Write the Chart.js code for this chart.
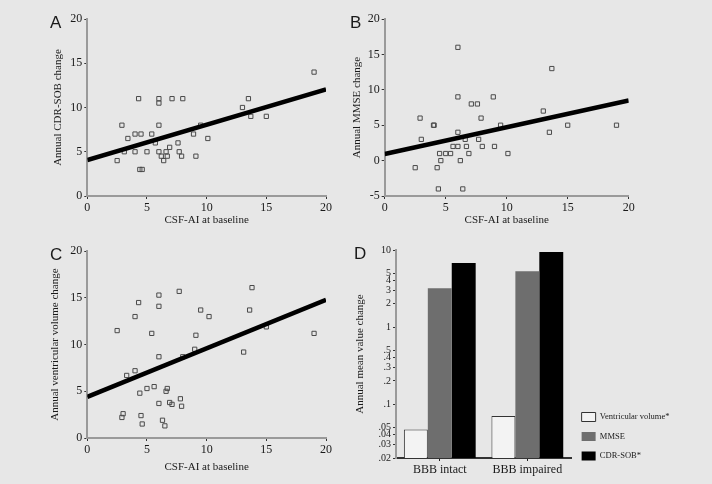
<!DOCTYPE html>
<html>
<head>
<meta charset="utf-8">
<script src="https://cdn.jsdelivr.net/npm/chart.js@4.4.7/dist/chart.umd.min.js"></script>
<style>
  html, body { margin: 0; padding: 0; background: #e7e7e7; }
  body { width: 712px; height: 484px; position: relative; overflow: hidden; }
  .panel { position: absolute; }
</style>
</head>
<body>
<div class="panel" style="left:0;top:0;width:356px;height:242px"><canvas id="chartA"></canvas></div>
<div class="panel" style="left:340px;top:0;width:372px;height:242px"><canvas id="chartB"></canvas></div>
<div class="panel" style="left:0;top:242px;width:356px;height:242px"><canvas id="chartC"></canvas></div>
<div class="panel" style="left:200px;top:242px;width:512px;height:242px"><canvas id="chartD"></canvas></div>
<script>
// CSF-AI at baseline vs annual changes
const cdrX = [2.5, 2.9, 3.1, 3.4, 4.0, 4.0, 4.3, 4.5, 4.4, 4.6, 5.0, 5.4, 5.7, 6.0, 6.0, 6.0, 6.0, 6.2, 6.4, 6.6, 6.7, 6.9, 7.1, 7.6, 7.7, 7.9, 8.0, 8.9, 9.1, 9.5, 10.1, 13.0, 13.5, 13.7, 15.0, 19.0];
const cdrY = [4, 8, 5, 6.5, 7, 5, 11, 7, 3, 3, 5, 7, 6, 11, 10.5, 8, 5, 4.5, 4, 5, 4.5, 5.5, 11, 6, 5, 4.5, 11, 7, 4.5, 8, 6.5, 10, 11, 9, 9, 14];

const mmseX = [2.5, 2.9, 3.0, 4.0, 4.05, 4.3, 4.4, 4.5, 4.6, 5.0, 5.4, 5.6, 6.0, 6.0, 6.0, 6.0, 6.2, 6.4, 6.6, 6.7, 6.9, 7.1, 7.6, 7.7, 7.9, 8.0, 8.9, 9.0, 9.5, 10.1, 13.0, 13.5, 13.7, 15.0, 19.0];
const mmseY = [-1, 6, 3, 5, 5, -1, -4, 1, 0, 1, 1, 2, 16, 9, 4, 2, 0, -4, 3, 2, 1, 8, 8, 3, 6, 2, 9, 2, 5, 1, 7, 4, 13, 5, 5];

const ventX = [2.5, 2.9, 3.0, 3.3, 4.0, 4.0, 4.3, 4.4, 4.5, 4.6, 5.0, 5.4, 5.6, 6.0, 6.0, 6.0, 6.0, 6.3, 6.5, 6.6, 6.7, 6.9, 7.1, 7.7, 7.8, 7.9, 8.0, 9.0, 9.1, 9.5, 10.2, 13.1, 13.6, 13.8, 15.0, 19.0];
const ventY = [11.5, 2.2, 2.6, 6.7, 13, 7.2, 14.5, 4.8, 2.4, 1.5, 5.3, 11.2, 5.5, 15.3, 14.1, 8.7, 3.7, 1.9, 1.3, 5.0, 5.3, 3.8, 3.6, 15.7, 4.2, 3.4, 8.7, 9.5, 11, 13.7, 13, 9.2, 13.7, 16.1, 11.9, 11.2];

// fitted regression lines, end values at x = 0 and x = 20
const fitX = [0, 20];
const cdrFit = [4.07, 12.05];
const mmseFit = [0.94, 8.5];
const ventFit = [4.4, 14.8];

// panel D
const groups = ['BBB intact', 'BBB impaired'];
const ventMean = [0.047, 0.07];
const mmseMean = [3.2, 5.3];
const cdrMean = [6.8, 9.4];
const dTickValues = [10, 5, 4, 3, 2, 1, 0.5, 0.4, 0.3, 0.2, 0.1, 0.05, 0.04, 0.03, 0.02];
const dTickLabels = ['10', '5', '4', '3', '2', '1', '.5', '.4', '.3', '.2', '.1', '.05', '.04', '.03', '.02'];

Chart.defaults.font.family = '"Liberation Serif", "Times New Roman", serif';
Chart.defaults.color = '#1a1a1a';

const panelLetter = {
  id: 'panelLetter',
  afterDraw(chart, args, opts) {
    const ctx = chart.ctx;
    ctx.save();
    ctx.font = '17px "Liberation Sans", Arial, sans-serif';
    ctx.fillStyle = '#1a1a1a';
    ctx.fillText(opts.text, opts.x, opts.y);
    ctx.restore();
  }
};

function toPoints(xs, ys) {
  return xs.map((x, i) => ({ x: x, y: ys[i] }));
}

function axisLook(extra) {
  return Object.assign({
    grid: { drawOnChartArea: false, drawTicks: true, tickLength: 3, color: '#333', lineWidth: 1 },
    border: { color: '#9a9a9a', width: 2 },
    ticks: { font: { size: 12 }, color: '#1a1a1a', padding: 2 }
  }, extra);
}

function makeScatter(id, p) {
  return new Chart(document.getElementById(id), {
    type: 'scatter',
    data: {
      datasets: [
        {
          data: toPoints(p.xs, p.ys),
          pointStyle: 'rect',
          pointRadius: 3,
          borderColor: '#4a4a4a',
          borderWidth: 1,
          backgroundColor: 'rgba(0,0,0,0)',
          order: 2
        },
        {
          data: toPoints(fitX, p.fit),
          showLine: true,
          borderColor: '#000',
          borderWidth: 4.5,
          pointRadius: 0,
          order: 1
        }
      ]
    },
    options: {
      animation: false,
      responsive: true,
      maintainAspectRatio: false,
      layout: { padding: p.pad },
      scales: {
        x: axisLook({
          type: 'linear', min: 0, max: 20,
          ticks: { stepSize: 5, font: { size: 12 }, color: '#1a1a1a', padding: 2 },
          title: { display: true, text: 'CSF-AI at baseline', font: { size: 11 }, padding: { top: 0, bottom: p.xTitlePad } },
          afterFit: s => { s.height = p.xAxisH; }
        }),
        y: axisLook({
          min: p.yMin, max: 20,
          ticks: { stepSize: 5, font: { size: 12 }, color: '#1a1a1a', padding: 2 },
          title: { display: true, text: p.yTitle, font: { size: 11 }, padding: { top: p.yTitlePad, bottom: 0 } },
          afterFit: s => { s.width = p.yAxisW; }
        })
      },
      plugins: {
        legend: { display: false },
        tooltip: { enabled: false },
        panelLetter: p.letter
      }
    },
    plugins: [panelLetter]
  });
}

makeScatter('chartA', {
  xs: cdrX, ys: cdrY, fit: cdrFit, yMin: 0,
  yTitle: 'Annual CDR-SOB change',
  pad: { left: 0, top: 19, right: 30, bottom: 0 },
  yAxisW: 87.3, yTitlePad: 51.9, xAxisH: 46, xTitlePad: 15.4,
  letter: { text: 'A', x: 50, y: 28 }
});

makeScatter('chartB', {
  xs: mmseX, ys: mmseY, fit: mmseFit, yMin: -5,
  yTitle: 'Annual MMSE change',
  pad: { left: 0, top: 19, right: 83.3, bottom: 0 },
  yAxisW: 44.7, yTitlePad: 10.9, xAxisH: 46, xTitlePad: 15.4,
  letter: { text: 'B', x: 10, y: 28 }
});

makeScatter('chartC', {
  xs: ventX, ys: ventY, fit: ventFit, yMin: 0,
  yTitle: 'Annual ventricular volume change',
  pad: { left: 0, top: 6.7, right: 30, bottom: 0 },
  yAxisW: 87.3, yTitlePad: 48.4, xAxisH: 46, xTitlePad: 10.4,
  letter: { text: 'C', x: 50, y: 18 }
});

new Chart(document.getElementById('chartD'), {
  type: 'bar',
  data: {
    labels: groups,
    datasets: [
      { label: 'Ventricular volume*', data: ventMean, backgroundColor: '#f3f3f3', borderColor: '#333', borderWidth: 1 },
      { label: 'MMSE', data: mmseMean, backgroundColor: '#6e6e6e', borderColor: '#6e6e6e', borderWidth: 0 },
      { label: 'CDR-SOB*', data: cdrMean, backgroundColor: '#000', borderColor: '#000', borderWidth: 0 }
    ]
  },
  options: {
    animation: false,
    responsive: true,
    maintainAspectRatio: false,
    layout: { padding: { left: 0, top: 5, right: 32.5, bottom: 0 } },
    datasets: { bar: { categoryPercentage: 0.82, barPercentage: 1 } },
    scales: {
      x: {
        grid: { drawOnChartArea: false, offset: false, tickLength: 3, color: '#222' },
        border: { color: '#333', width: 2 },
        ticks: { font: { size: 12 }, color: '#1a1a1a', padding: 2 },
        afterFit: s => { s.height = 26; }
      },
      y: {
        type: 'logarithmic', min: 0.02, max: 10,
        afterBuildTicks: s => { s.ticks = dTickValues.map(v => ({ value: v })); },
        ticks: { autoSkip: false, font: { size: 10 }, color: '#1a1a1a', padding: 2, callback: (v, i) => dTickLabels[i] },
        grid: { drawOnChartArea: false, tickLength: 3, color: '#333' },
        border: { color: '#9a9a9a', width: 2 },
        title: { display: true, text: 'Annual mean value change', font: { size: 11 }, padding: { top: 153.4, bottom: 0 } },
        afterFit: s => { s.width = 196; }
      }
    },
    plugins: {
      legend: {
        position: 'right', align: 'start',
        // empty title only pushes the entries down to the lower right corner
        title: { display: true, text: ' ', font: { size: 2 }, padding: { top: 152.6, bottom: 0 } },
        labels: { boxWidth: 14, boxHeight: 9, padding: 10.5, font: { size: 8.5 }, color: '#1a1a1a' }
      },
      tooltip: { enabled: false },
      panelLetter: { text: 'D', x: 154, y: 17 }
    }
  },
  plugins: [panelLetter]
});
</script>
</body>
</html>
